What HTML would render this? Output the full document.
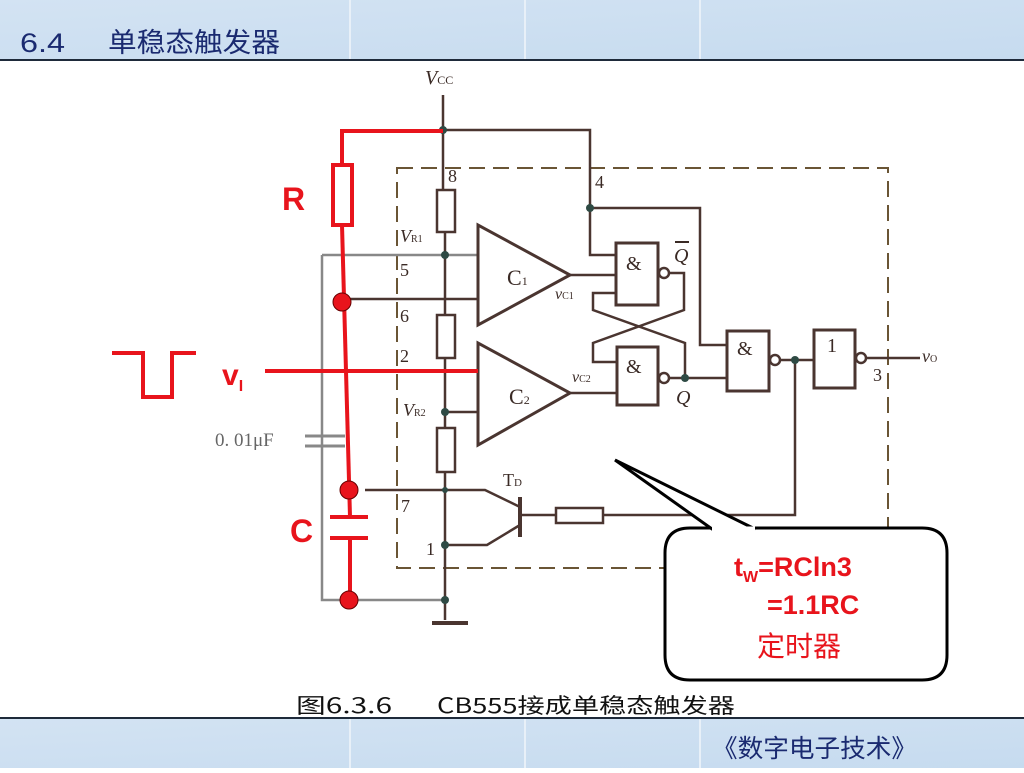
<!DOCTYPE html>
<html><head><meta charset="utf-8"><style>
body{margin:0;width:1024px;height:768px;overflow:hidden;background:#fff;font-family:"Liberation Sans","Noto Sans CJK SC",sans-serif;}
</style></head><body>
<svg width="1024" height="768" viewBox="0 0 1024 768" xmlns="http://www.w3.org/2000/svg">
<defs><linearGradient id="bg" x1="0" y1="0" x2="1" y2="1"><stop offset="0" stop-color="#d3e3f3"/><stop offset="1" stop-color="#c6dbef"/></linearGradient></defs>
<rect x="0" y="0" width="1024" height="60" fill="url(#bg)"/>
<rect x="0" y="718" width="1024" height="50" fill="url(#bg)"/>
<g stroke="#e8f0f8" stroke-width="2"><line x1="350" y1="0" x2="350" y2="60"/><line x1="525" y1="0" x2="525" y2="60"/><line x1="700" y1="0" x2="700" y2="60"/>
<line x1="350" y1="718" x2="350" y2="768"/><line x1="525" y1="718" x2="525" y2="768"/><line x1="700" y1="718" x2="700" y2="768"/></g>
<line x1="0" y1="60" x2="1024" y2="60" stroke="#1e2a3a" stroke-width="2"/>
<line x1="0" y1="718" x2="1024" y2="718" stroke="#1e2a3a" stroke-width="2"/>
<text x="20" y="52" font-family="Liberation Sans Narrow,Liberation Sans,sans-serif" font-size="27" fill="#1a2a70" textLength="45" lengthAdjust="spacingAndGlyphs">6.4</text>
<text x="108" y="52" font-family="'Noto Sans CJK SC',sans-serif" font-size="27" fill="#1a2a70" textLength="172" lengthAdjust="spacingAndGlyphs">单稳态触发器</text>
<text x="712" y="757" font-family="'Noto Sans CJK SC',sans-serif" font-size="25" fill="#1a2a70" textLength="205" lengthAdjust="spacingAndGlyphs">《数字电子技术》</text>
<text x="296" y="713" font-family="'Noto Sans CJK SC',sans-serif" font-size="21" fill="#111" textLength="96" lengthAdjust="spacingAndGlyphs">图6.3.6</text>
<text x="437" y="713" font-family="'Noto Sans CJK SC',sans-serif" font-size="21" fill="#111" textLength="298" lengthAdjust="spacingAndGlyphs">CB555接成单稳态触发器</text>

<!-- circuit -->
<g fill="none" stroke="#4a3530" stroke-width="2.5">
<rect x="397" y="168" width="491" height="400" stroke-dasharray="16,8" stroke="#6a5535" stroke-width="2"/>
<polyline points="443,95 443,190"/><rect x="437" y="190" width="18" height="42"/>
<polyline points="445,232 445,315"/><rect x="437" y="315" width="18" height="43"/>
<polyline points="445,358 445,428"/><rect x="437" y="428" width="18" height="44"/>
<polyline points="445,472 445,620"/>
<line x1="432" y1="623" x2="468" y2="623" stroke-width="4"/>
<polyline points="443,130 590,130 590,255 616,255"/>
<polyline points="590,208 700,208 700,345 727,345"/>
<polyline points="322,255 478,255" stroke="#888"/>
<polyline points="322,255 322,600 445,600" stroke="#888"/>
<line x1="305" y1="436" x2="345" y2="436" stroke="#888" stroke-width="3"/>
<line x1="305" y1="446" x2="345" y2="446" stroke="#888" stroke-width="3"/>
<line x1="342" y1="299" x2="478" y2="299"/>
<line x1="445" y1="412" x2="478" y2="412"/>
<polygon points="478,225 478,325 570,275" stroke-width="3"/>
<polygon points="478,343 478,445 570,393" stroke-width="3"/>
<line x1="570" y1="275" x2="616" y2="275"/>
<line x1="570" y1="393" x2="617" y2="393"/>
<rect x="616" y="243" width="42" height="62" stroke-width="3"/>
<rect x="617" y="347" width="41" height="58" stroke-width="3"/>
<circle cx="664" cy="273" r="5"/><circle cx="664" cy="378" r="5"/>
<polyline points="669,273 684,273 684,310 593,343 593,362 617,362"/>
<polyline points="617,293 593,293 593,310 685,343 685,378"/>
<line x1="669" y1="378" x2="727" y2="378"/>
<rect x="727" y="331" width="42" height="60" stroke-width="3"/>
<circle cx="775" cy="360" r="5"/>
<line x1="780" y1="360" x2="814" y2="360"/>
<rect x="814" y="330" width="41" height="58" stroke-width="3"/>
<circle cx="861" cy="358" r="5"/>
<line x1="866" y1="358" x2="920" y2="358"/>
<polyline points="795,360 795,515 603,515"/>
<rect x="556" y="508" width="47" height="15"/>
<polyline points="556,515 520,515"/>
<line x1="520" y1="497" x2="520" y2="537" stroke-width="4"/>
<polyline points="520,507 485,490 365,490"/>
<polyline points="520,525 487,545 445,545"/>
</g>
<g fill="#2e4a44"><circle cx="443" cy="130" r="4"/><circle cx="590" cy="208" r="4"/><circle cx="445" cy="255" r="4"/><circle cx="445" cy="412" r="4"/><circle cx="685" cy="378" r="4"/><circle cx="795" cy="360" r="4"/><circle cx="445" cy="545" r="4"/><circle cx="445" cy="600" r="4"/><circle cx="445" cy="490" r="3"/></g>
<g font-family="'Liberation Serif',serif" fill="#3a2a25">
<text x="425" y="84" font-size="20" font-style="italic">V<tspan font-size="12" font-style="normal">CC</tspan></text>
<text x="448" y="182" font-size="18">8</text><text x="595" y="188" font-size="18">4</text>
<text x="400" y="242" font-size="18" font-style="italic">V<tspan font-size="10" font-style="normal">R1</tspan></text>
<text x="400" y="276" font-size="18">5</text><text x="400" y="322" font-size="18">6</text>
<text x="400" y="362" font-size="18">2</text>
<text x="403" y="416" font-size="18" font-style="italic">V<tspan font-size="10" font-style="normal">R2</tspan></text>
<text x="401" y="512" font-size="18">7</text><text x="426" y="555" font-size="18">1</text>
<text x="503" y="486" font-size="18">T<tspan font-size="11">D</tspan></text>
<text x="507" y="285" font-size="22">C<tspan font-size="12">1</tspan></text>
<text x="509" y="404" font-size="22">C<tspan font-size="12">2</tspan></text>
<text x="555" y="299" font-size="16" font-style="italic">v<tspan font-size="10" font-style="normal">C1</tspan></text>
<text x="572" y="382" font-size="16" font-style="italic">v<tspan font-size="10" font-style="normal">C2</tspan></text>
<text x="626" y="270" font-size="20">&amp;</text><text x="626" y="373" font-size="20">&amp;</text>
<text x="737" y="355" font-size="20">&amp;</text><text x="827" y="352" font-size="20">1</text>
<text x="674" y="262" font-size="20" font-style="italic">Q</text><line x1="675" y1="242" x2="689" y2="242" stroke="#3a2a25" stroke-width="2"/>
<text x="676" y="404" font-size="20" font-style="italic">Q</text>
<text x="873" y="381" font-size="18">3</text>
<text x="922" y="362" font-size="18" font-style="italic">v<tspan font-size="10" font-style="normal">O</tspan></text>
<text x="215" y="446" font-size="19" fill="#666">0. 01μF</text>
</g>
<!-- red -->
<g stroke="#e8141c" stroke-width="4" fill="none">
<polyline points="443,131 342,131 342,165"/>
<rect x="333" y="165" width="19" height="60" fill="#fff"/>
<line x1="342" y1="225" x2="350" y2="517"/>
<line x1="350" y1="538" x2="350" y2="600"/>
<line x1="330" y1="517" x2="368" y2="517"/><line x1="330" y1="538" x2="368" y2="538"/>
<line x1="265" y1="371" x2="478" y2="371"/>
<polyline points="112,353 143,353 143,397 172,397 172,353 196,353"/>
</g>
<g fill="#e8141c" stroke="#600" stroke-width="1"><circle cx="342" cy="302" r="9"/><circle cx="349" cy="490" r="9"/><circle cx="349" cy="600" r="9"/></g>
<g fill="#e8141c" font-family="'Liberation Sans',sans-serif" font-weight="bold">
<text x="282" y="210" font-size="32">R</text>
<text x="222" y="385" font-size="30">v<tspan font-size="16" dy="6">I</tspan></text>
<text x="290" y="542" font-size="32">C</text>
</g>
<!-- callout -->
<path d="M690,528 H922 Q947,528 947,553 V655 Q947,680 922,680 H690 Q665,680 665,655 V553 Q665,528 690,528 Z" fill="#fff" stroke="#000" stroke-width="3"/>
<polygon points="615,460 712,529 755,529" fill="#fff" stroke="#000" stroke-width="3"/>
<line x1="712" y1="529" x2="755" y2="529" stroke="#fff" stroke-width="5"/>
<g fill="#e8141c" font-family="'Liberation Sans','Noto Sans CJK SC',sans-serif" font-weight="bold" font-size="27">
<text x="734" y="576">t<tspan font-size="16" dy="6">W</tspan><tspan dy="-6">=RCln3</tspan></text>
<text x="767" y="614">=1.1RC</text>
<text x="757" y="656" font-weight="normal" font-size="28">定时器</text>
</g>
</svg>
</body></html>
